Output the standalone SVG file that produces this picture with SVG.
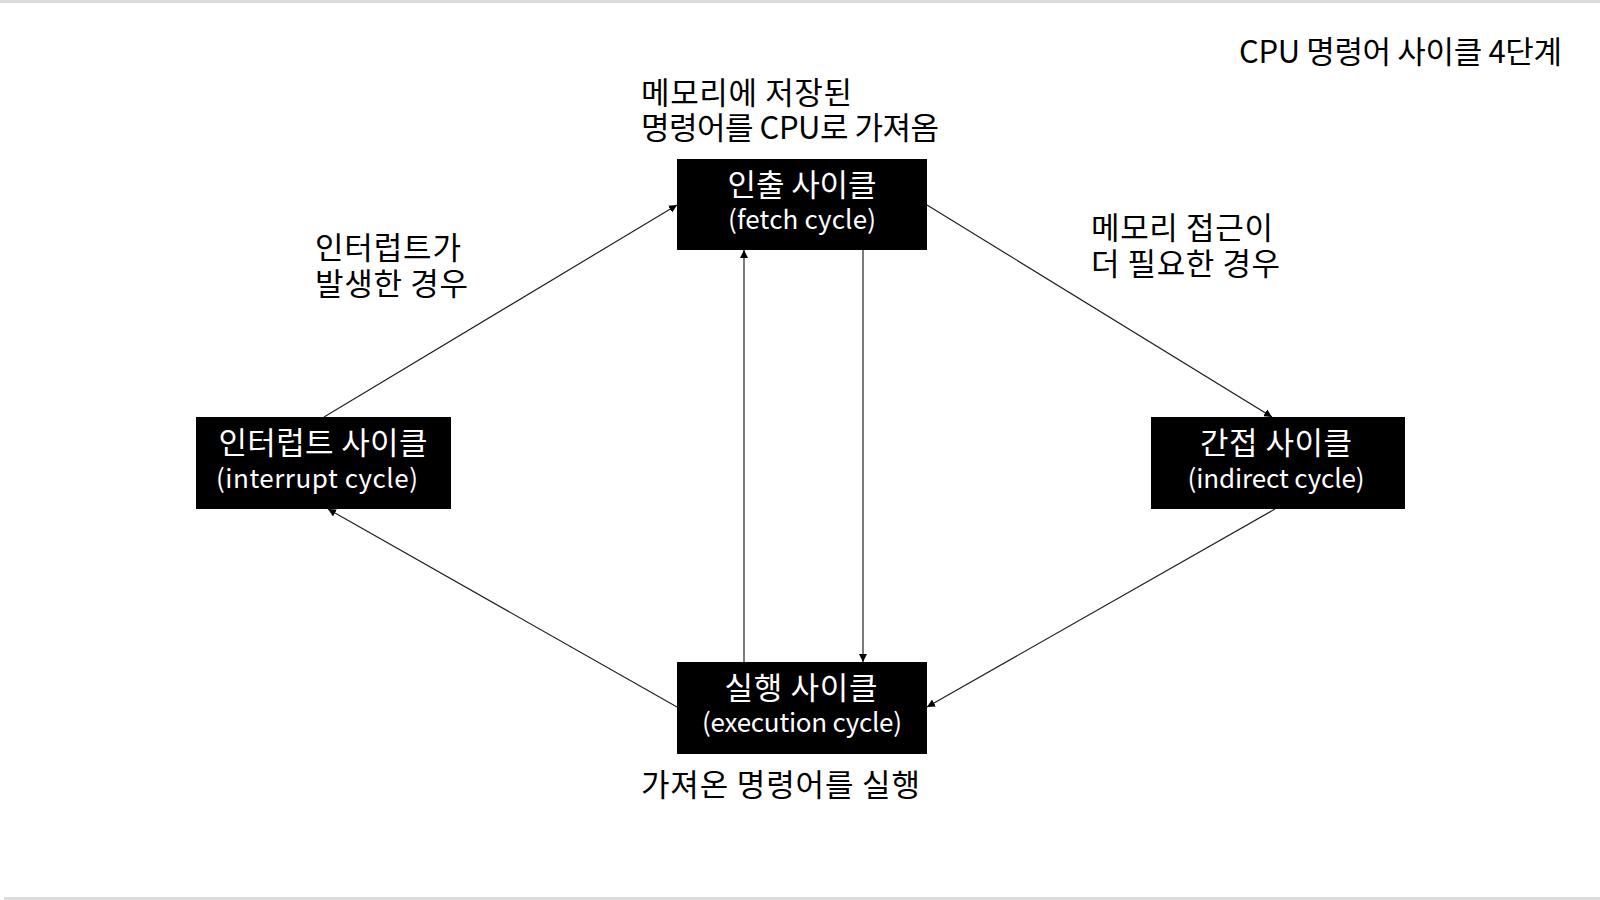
<svg xmlns="http://www.w3.org/2000/svg" width="1600" height="900" viewBox="0 0 1600 900">
<defs>
<style>
.node rect{fill:#000}
.nt{font-family:"Noto Sans CJK KR","Noto Sans",sans-serif;fill:#fff;text-anchor:middle;font-size:31px}
.nl{font-family:"Noto Sans CJK KR","Noto Sans",sans-serif;fill:#fff;text-anchor:middle;font-size:26px}
.lbl{font-family:"Noto Sans CJK KR","Noto Sans",sans-serif;fill:#000;font-size:31px}
.edge{stroke:#222;stroke-width:1.2;fill:none;marker-end:url(#ah)}
</style>
<marker id="ah" viewBox="0 0 10 10" refX="10" refY="5" markerWidth="8" markerHeight="8" markerUnits="userSpaceOnUse" orient="auto">
<path d="M0,0 L10,5 L0,10 z" fill="#000"/>
</marker>
</defs>
<rect x="0" y="0" width="1600" height="900" fill="#fff"/>
<line x1="0" y1="1.5" x2="1600" y2="1.5" stroke="#dcdcdc" stroke-width="3"/>
<line x1="4" y1="898.5" x2="1600" y2="898.5" stroke="#dcdcdc" stroke-width="3"/>

<g id="connectors">
<line class="edge" x1="324" y1="417" x2="677" y2="205"/>
<line class="edge" x1="927" y1="205" x2="1272" y2="417"/>
<line class="edge" x1="1275" y1="509" x2="927" y2="707"/>
<line class="edge" x1="677" y1="707" x2="328" y2="509"/>
<line class="edge" x1="744" y1="662" x2="744" y2="250"/>
<line class="edge" x1="863" y1="250" x2="863" y2="662"/>
</g>

<g id="fetch" class="node">
<rect x="677" y="159" width="250" height="91"/>
<text class="nt" x="802" y="196" textLength="149" lengthAdjust="spacing">인출 사이클</text>
<text class="nl" x="802" y="229" textLength="148" lengthAdjust="spacing">(fetch cycle)</text>
</g>
<g id="interrupt" class="node">
<rect x="196" y="417" width="255" height="92"/>
<text class="nt" x="323" y="454" textLength="209" lengthAdjust="spacing">인터럽트 사이클</text>
<text class="nl" x="317" y="488" textLength="202" lengthAdjust="spacing">(interrupt cycle)</text>
</g>
<g id="indirect" class="node">
<rect x="1151" y="417" width="254" height="92"/>
<text class="nt" x="1276" y="454" textLength="152" lengthAdjust="spacing">간접 사이클</text>
<text class="nl" x="1276" y="488" textLength="177" lengthAdjust="spacing">(indirect cycle)</text>
</g>
<g id="execution" class="node">
<rect x="677" y="662" width="250" height="92"/>
<text class="nt" x="801" y="699" textLength="153" lengthAdjust="spacing">실행 사이클</text>
<text class="nl" x="802" y="732" textLength="200" lengthAdjust="spacing">(execution cycle)</text>
</g>

<g id="labels">
<text class="lbl" x="1239" y="63" font-size="28" textLength="323" lengthAdjust="spacing">CPU 명령어 사이클 4단계</text>
<text class="lbl" x="641" y="104" textLength="211" lengthAdjust="spacing">메모리에 저장된</text>
<text class="lbl" x="641" y="139" textLength="298" lengthAdjust="spacing">명령어를 CPU로 가져옴</text>
<text class="lbl" x="315" y="259" textLength="146" lengthAdjust="spacing">인터럽트가</text>
<text class="lbl" x="315" y="295" textLength="153" lengthAdjust="spacing">발생한 경우</text>
<text class="lbl" x="1091" y="239" textLength="182" lengthAdjust="spacing">메모리 접근이</text>
<text class="lbl" x="1091" y="275" textLength="189" lengthAdjust="spacing">더 필요한 경우</text>
<text class="lbl" x="641" y="796" textLength="279" lengthAdjust="spacing">가져온 명령어를 실행</text>
</g>
</svg>
